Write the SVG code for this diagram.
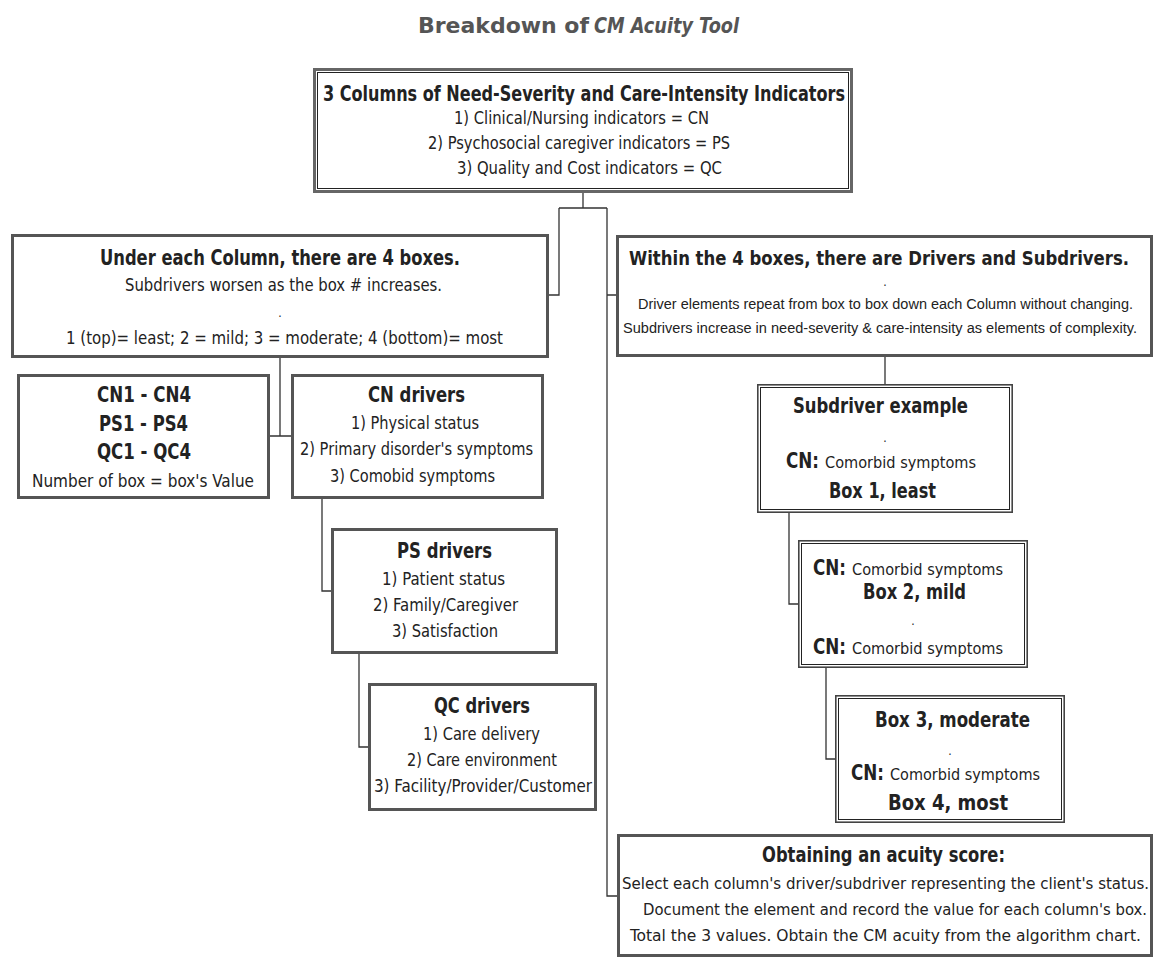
<svg xmlns="http://www.w3.org/2000/svg" width="1155" height="963" viewBox="0 0 1155 963">
<style>
text{font-family:"DejaVu Sans Condensed","DejaVu Sans",sans-serif;fill:#222;font-stretch:condensed}
.t{font-weight:bold;font-size:22px;fill:#555}
.b{font-weight:bold;font-size:21px}
.r{font-size:18.5px}
.o{font-size:16.4px}
.s{font-size:16.5px}
.w{font-weight:bold;font-size:19px}
.n{font-family:"Liberation Sans Narrow","Liberation Sans",sans-serif;font-size:14.7px}
.d{font-size:12px;text-anchor:middle;fill:#222}
.box{fill:#fff;stroke:#555;stroke-width:3}
.dbo{fill:#fff;stroke:#444;stroke-width:1.6}
.dbi{fill:none;stroke:#222;stroke-width:1}
.c{fill:none;stroke:#333;stroke-width:1.3}
</style>
<rect width="1155" height="963" fill="#fff"/>
<g id="title">
<text class="t" x="418" y="33" textLength="171" lengthAdjust="spacingAndGlyphs">Breakdown of</text>
<text class="t" x="594" y="33" textLength="145" lengthAdjust="spacingAndGlyphs" font-style="italic">CM Acuity Tool</text>
</g>
<g id="connectors">
<path class="c" d="M583 193V208M559 208H607M559 208V295H549M607 208V896H618M607 295H616"/>
<path class="c" d="M280 358V436M270 436H291M322 499V591H331M359 654V747H368"/>
<path class="c" d="M885 357V384M789 513V604H798M826 668V759H835"/>
</g>
<g id="top">
<rect x="314.5" y="69.5" width="537" height="122" fill="#fff" stroke="#666" stroke-width="3"/>
<rect x="317.5" y="72.5" width="531" height="116" class="dbi"/>
<text class="b" x="323" y="101" textLength="522" lengthAdjust="spacingAndGlyphs">3 Columns of Need-Severity and Care-Intensity Indicators</text>
<text class="r" x="454" y="124" textLength="255" lengthAdjust="spacingAndGlyphs">1) Clinical/Nursing indicators = CN</text>
<text class="r" x="428" y="149" textLength="302" lengthAdjust="spacingAndGlyphs">2) Psychosocial caregiver indicators = PS</text>
<text class="r" x="457" y="174" textLength="265" lengthAdjust="spacingAndGlyphs">3) Quality and Cost indicators = QC</text>
</g>
<g id="under">
<rect class="box" x="12.5" y="235.5" width="535" height="121"/>
<text class="b" x="100" y="265" textLength="360" lengthAdjust="spacingAndGlyphs">Under each Column, there are 4 boxes.</text>
<text class="r" x="125" y="291" textLength="317" lengthAdjust="spacingAndGlyphs">Subdrivers worsen as the box # increases.</text>
<text class="d" x="280" y="317">.</text>
<text class="r" x="66" y="344" textLength="437" lengthAdjust="spacingAndGlyphs">1 (top)= least; 2 = mild; 3 = moderate; 4 (bottom)= most</text>
</g>
<g id="cn1">
<rect class="box" x="18.5" y="375.5" width="250" height="122"/>
<text class="b" x="97" y="402" textLength="94" lengthAdjust="spacingAndGlyphs">CN1 - CN4</text>
<text class="b" x="99" y="431" textLength="89" lengthAdjust="spacingAndGlyphs">PS1 - PS4</text>
<text class="b" x="97" y="459" textLength="94" lengthAdjust="spacingAndGlyphs">QC1 - QC4</text>
<text class="r" x="32" y="487" textLength="222" lengthAdjust="spacingAndGlyphs">Number of box = box's Value</text>
</g>
<g id="cndrivers">
<rect class="box" x="292.5" y="375.5" width="250" height="122"/>
<text class="b" x="368" y="402" textLength="97" lengthAdjust="spacingAndGlyphs">CN drivers</text>
<text class="r" x="351" y="429" textLength="128" lengthAdjust="spacingAndGlyphs">1) Physical status</text>
<text class="r" x="300" y="455" textLength="233" lengthAdjust="spacingAndGlyphs">2) Primary disorder's symptoms</text>
<text class="r" x="330" y="482" textLength="165" lengthAdjust="spacingAndGlyphs">3) Comobid symptoms</text>
</g>
<g id="psdrivers">
<rect class="box" x="332.5" y="529.5" width="224" height="123"/>
<text class="b" x="397" y="558" textLength="95" lengthAdjust="spacingAndGlyphs">PS drivers</text>
<text class="r" x="382" y="585" textLength="123" lengthAdjust="spacingAndGlyphs">1) Patient status</text>
<text class="r" x="373" y="611" textLength="145" lengthAdjust="spacingAndGlyphs">2) Family/Caregiver</text>
<text class="r" x="392" y="637" textLength="106" lengthAdjust="spacingAndGlyphs">3) Satisfaction</text>
</g>
<g id="qcdrivers">
<rect class="box" x="369.5" y="684.5" width="226" height="125"/>
<text class="b" x="434" y="713" textLength="96" lengthAdjust="spacingAndGlyphs">QC drivers</text>
<text class="r" x="423" y="740" textLength="117" lengthAdjust="spacingAndGlyphs">1) Care delivery</text>
<text class="r" x="407" y="766" textLength="150" lengthAdjust="spacingAndGlyphs">2) Care environment</text>
<text class="r" x="374" y="792" textLength="218" lengthAdjust="spacingAndGlyphs">3) Facility/Provider/Customer</text>
</g>
<g id="within">
<rect class="box" x="617.5" y="236.5" width="534" height="119"/>
<text class="w" x="629" y="265" textLength="500" lengthAdjust="spacingAndGlyphs">Within the 4 boxes, there are Drivers and Subdrivers.</text>
<text class="d" x="885" y="286">.</text>
<text class="n" x="638" y="309" textLength="495" lengthAdjust="spacingAndGlyphs">Driver elements repeat from box to box down each Column without changing.</text>
<text class="n" x="623" y="333" textLength="514" lengthAdjust="spacingAndGlyphs">Subdrivers increase in need-severity &amp; care-intensity as elements of complexity.</text>
</g>
<g id="box1">
<rect class="dbo" x="757.8" y="384.8" width="254.4" height="127.4"/>
<rect class="dbi" x="760.5" y="387.5" width="249" height="122"/>
<text class="b" x="793" y="413" textLength="175" lengthAdjust="spacingAndGlyphs">Subdriver example</text>
<text class="d" x="885" y="442">.</text>
<text class="b" x="786" y="468" textLength="33" lengthAdjust="spacingAndGlyphs">CN:</text>
<text class="s" x="825" y="468" textLength="151" lengthAdjust="spacingAndGlyphs">Comorbid symptoms</text>
<text class="b" x="829" y="498" textLength="107" lengthAdjust="spacingAndGlyphs">Box 1, least</text>
</g>
<g id="box2">
<rect class="dbo" x="798.8" y="540.8" width="228.4" height="126.4"/>
<rect class="dbi" x="801.5" y="543.5" width="223" height="121"/>
<text class="b" x="813" y="575" textLength="33" lengthAdjust="spacingAndGlyphs">CN:</text>
<text class="s" x="852" y="575" textLength="151" lengthAdjust="spacingAndGlyphs">Comorbid symptoms</text>
<text class="b" x="863" y="599" textLength="103" lengthAdjust="spacingAndGlyphs">Box 2, mild</text>
<text class="d" x="913" y="625">.</text>
<text class="b" x="813" y="654" textLength="33" lengthAdjust="spacingAndGlyphs">CN:</text>
<text class="s" x="852" y="654" textLength="151" lengthAdjust="spacingAndGlyphs">Comorbid symptoms</text>
</g>
<g id="box3">
<rect class="dbo" x="835.8" y="695.8" width="228.4" height="126.4"/>
<rect class="dbi" x="838.5" y="698.5" width="223" height="121"/>
<text class="b" x="875" y="727" textLength="155" lengthAdjust="spacingAndGlyphs">Box 3, moderate</text>
<text class="d" x="950" y="755">.</text>
<text class="b" x="851" y="780" textLength="33" lengthAdjust="spacingAndGlyphs">CN:</text>
<text class="s" x="890" y="780" textLength="150" lengthAdjust="spacingAndGlyphs">Comorbid symptoms</text>
<text class="b" x="888" y="810" textLength="120" lengthAdjust="spacingAndGlyphs">Box 4, most</text>
</g>
<g id="obtaining">
<rect class="box" x="618.5" y="835.5" width="533" height="120"/>
<text class="b" x="762" y="862" textLength="243" lengthAdjust="spacingAndGlyphs">Obtaining an acuity score:</text>
<text class="o" x="622" y="889" textLength="527" lengthAdjust="spacingAndGlyphs">Select each column's driver/subdriver representing the client's status.</text>
<text class="o" x="643" y="915" textLength="504" lengthAdjust="spacingAndGlyphs">Document the element and record the value for each column's box.</text>
<text class="o" x="630" y="941" textLength="511" lengthAdjust="spacingAndGlyphs">Total the 3 values. Obtain the CM acuity from the algorithm chart.</text>
</g>
</svg>
